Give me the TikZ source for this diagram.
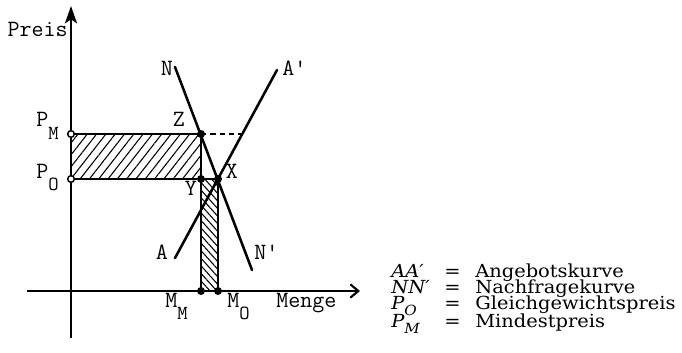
\documentclass[tikz,border=0pt]{standalone}
\usepackage{fontspec}
\newfontfamily\legfont[FakeStretch=1.08]{DejaVu Serif}
\usetikzlibrary{arrows.meta,patterns.meta}
\newcommand\ttsub[1]{\raisebox{-0.55em}{\fontsize{15}{15}\selectfont #1}}
\newcommand\legsub[1]{\raisebox{-4.5pt}{\fontsize{10.5}{10.5}\selectfont #1}}
\begin{document}
\begin{tikzpicture}[x=0.75pt,y=-0.75pt,
  lbl/.style={font=\ttfamily\fontsize{17.5}{17.5}\selectfont, inner sep=0pt, anchor=base west},
  clbl/.style={lbl, anchor=base},
  curve/.style={line width=1.9pt, line cap=round},
  axis/.style={line width=1.6pt},
  edge/.style={line width=1.5pt},
  fdot/.style={circle, fill=black, inner sep=0pt, minimum size=6pt},
  odot/.style={circle, draw, fill=white, line width=1.1pt, inner sep=0pt, minimum size=5pt},
  leg/.style={font=\legfont\fontsize{13.5}{13.5}\selectfont, inner sep=0pt, anchor=base west},
  legk/.style={leg, font=\legfont\itshape\fontsize{13.5}{13.5}\selectfont}]
\useasboundingbox (0,0) rectangle (682,353);
% coordinates
\coordinate (ytop) at (71,6);
\coordinate (ybot) at (71,338);
\coordinate (xl) at (27,291);
\coordinate (xr) at (360,291);
\coordinate (Ntop) at (175,67);
\coordinate (Nbot) at (252,270);
\coordinate (Abot) at (175,258);
\coordinate (Atop) at (277,70);
\coordinate (PM) at (71,134);
\coordinate (PO) at (71,179);
\coordinate (Z) at (201,134);
\coordinate (Y) at (201,179);
\coordinate (X) at (218,179);
\coordinate (MM) at (201,291);
\coordinate (MO) at (218,291);
\coordinate (D) at (241,134);
% hatching
\fill[pattern={Lines[angle=52,distance=5.5pt,line width=0.8pt]}] (PM) rectangle (Y);
\fill[pattern={Lines[angle=-48,distance=3.8pt,line width=0.8pt]}] (Y) rectangle (MO);
% rectangle edges
\draw[edge] (PM) -- (Z) -- (Y) -- (MM);
\draw[edge] (PO) -- (X) -- (MO);
\draw[edge, dash pattern=on 4pt off 3pt] (Z) -- (D);
% axes
\draw[axis, -{Stealth[length=13pt,width=9pt,inset=3pt]}] (ybot) -- (ytop);
\draw[axis, -{Straight Barb[length=6pt,width=10pt,line width=1.6pt]}] (xl) -- (xr);
% curves
\draw[curve] (Ntop) -- (Nbot);
\draw[curve] (Abot) -- (Atop);
% dots
\node[odot] (dPM) at (PM) {};
\node[odot] (dPO) at (PO) {};
\node[fdot] (dZ) at (Z) {};
\node[fdot] (dY) at (Y) {};
\node[fdot] (dX) at (X) {};
\node[fdot] (dMM) at (MM) {};
\node[fdot] (dMO) at (MO) {};
% labels
\node[lbl, anchor=base east] (lPreis) at (68,37) {Preis};
\node[lbl] (lPM) at (36,127) {P\ttsub{M}};
\node[lbl] (lPO) at (36,178) {P\ttsub{O}};
\node[clbl] (lN) at (167,75) {N};
\node[lbl] (lA2) at (282,75) {A'};
\node[clbl] (lZ) at (179,127) {Z};
\node[clbl] (lX) at (232,178) {X};
\node[clbl] (lY) at (191,195) {Y};
\node[clbl] (lA) at (162,259) {A};
\node[lbl] (lN2) at (254,259) {N'};
\node[lbl] (lMM) at (165,307) {M\ttsub{M}};
\node[lbl] (lMO) at (227,307) {M\ttsub{O}};
\node[lbl] (lMenge) at (276,307) {Menge};
% legend
\node[legk] (k1) at (391,277) {AA′};
\node[leg] (e1) at (444,277) {=};
\node[leg] (t1) at (475,277) {Angebotskurve};
\node[legk] (k2) at (391,293) {NN′};
\node[leg] (e2) at (444,293) {=};
\node[leg] (t2) at (475,293) {Nachfragekurve};
\node[legk] (k3) at (391,309) {P\legsub{O}};
\node[leg] (e3) at (444,309) {=};
\node[leg] (t3) at (475,309) {Gleichgewichtspreis};
\node[legk] (k4) at (391,327) {P\legsub{M}};
\node[leg] (e4) at (444,327) {=};
\node[leg] (t4) at (475,327) {Mindestpreis};
\end{tikzpicture}
\end{document}
